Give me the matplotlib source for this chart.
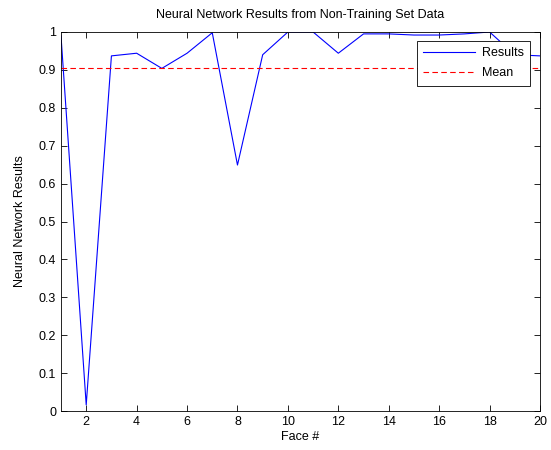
import numpy as np
import matplotlib
matplotlib.use("Agg")
import matplotlib.pyplot as plt

plt.rcParams['font.family'] = ['Liberation Sans', 'DejaVu Sans']

faces = list(range(1, 21))
results = [0.99, 0.016, 0.937, 0.944, 0.904, 0.944, 0.998, 0.649, 0.94, 1.0,
           1.0, 0.944, 0.995, 0.995, 0.992, 0.992, 0.995, 1.0, 0.94, 0.937]
mean_val = np.mean(results)

fig = plt.figure(figsize=(5.51, 4.5), dpi=100)
ax = fig.add_axes([61/551, 1-411/450, 479/551, 379/450])

ax.plot(faces, results, color='blue', lw=0.8, label='Results')
ax.plot([faces[0], faces[-1]], [mean_val, mean_val], color='red', ls='--', lw=0.8,
        dashes=(5, 3), label='Mean')

ax.set_xlim(1, 20)
ax.set_ylim(0, 1)
ax.set_xticks(np.arange(2, 21, 2))
ax.set_yticks(np.arange(0, 1.01, 0.1))
ax.set_yticklabels(['0', '0.1', '0.2', '0.3', '0.4', '0.5', '0.6', '0.7', '0.8', '0.9', '1'])
ax.tick_params(direction='in', top=True, right=True, labelsize=9, length=4, width=0.6)
for sp in ax.spines.values():
    sp.set_linewidth(0.6)

ax.set_title('Neural Network Results from Non-Training Set Data', fontsize=9, pad=10)
ax.set_xlabel('Face #', fontsize=9, labelpad=2)
ax.set_ylabel('Neural Network Results', fontsize=9, labelpad=9)

leg = ax.legend(loc='upper right', fontsize=9, fancybox=False, framealpha=1,
                edgecolor='black', borderpad=0.5, labelspacing=0.65,
                handlelength=4.2, handletextpad=0.5, borderaxespad=0,
                bbox_to_anchor=(0.979, 0.976))
leg.get_frame().set_linewidth(0.6)

fig.savefig('out.png', dpi=100)
